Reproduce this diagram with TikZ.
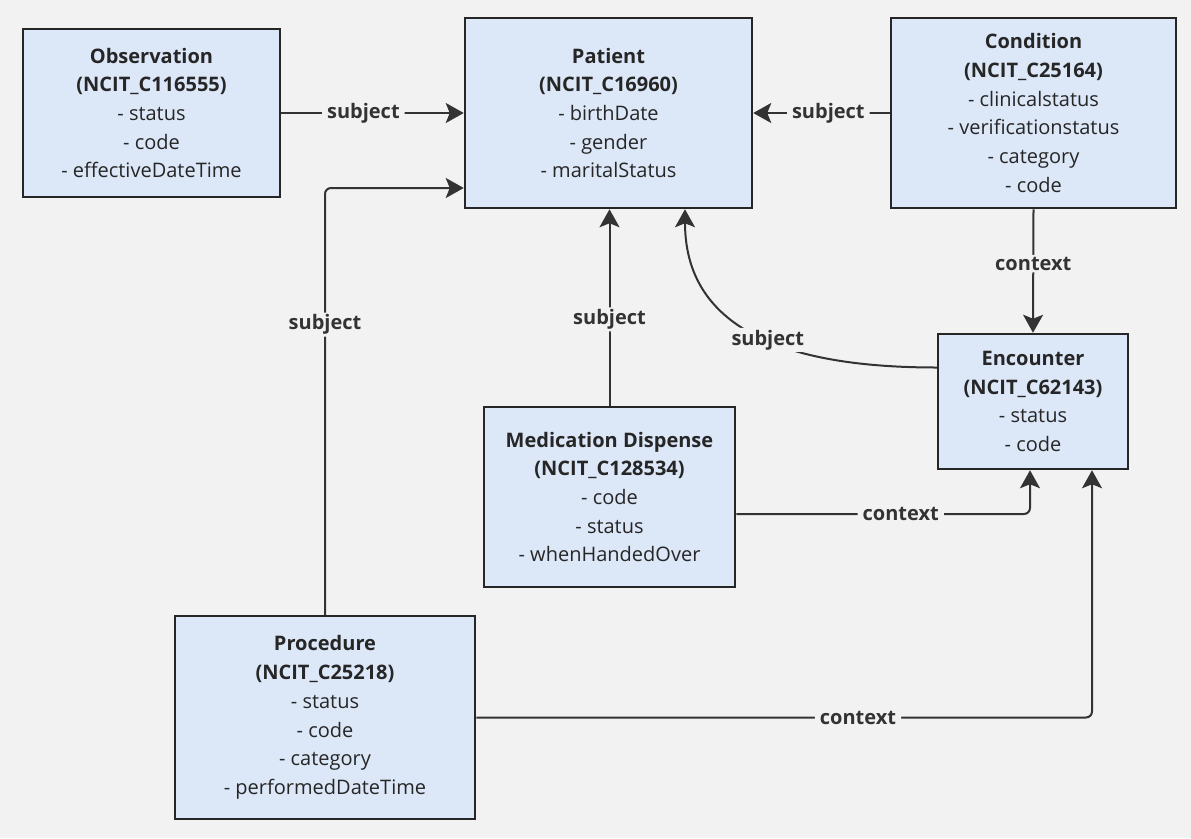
\documentclass[tikz,border=0pt]{standalone}
\usepackage{fontspec}
\setmainfont{Open Sans}
\usetikzlibrary{arrows.meta}
\definecolor{canvas}{HTML}{F2F2F2}
\definecolor{boxfill}{HTML}{DCE7F8}
\definecolor{edge}{HTML}{333333}

\begin{document}
\begin{tikzpicture}[x=1pt,y=-1pt]
        \tikzstyle{entity}=[draw=black!85,line width=2.5pt,fill=boxfill,align=center,text=black!85,font=\fontsize{20}{28.7}\selectfont,inner sep=0pt]
        \tikzstyle{link}=[draw=edge,line width=2pt,-{Stealth[length=18pt,width=20pt,inset=4pt]},rounded corners=6pt]
        \tikzstyle{tag}=[fill=canvas,text=edge,font=\fontsize{20}{22}\selectfont\bfseries,inner xsep=5pt,inner ysep=2pt]
        \fill[canvas] (0,0) rectangle (1191,838);
        % entities
        \node[entity,minimum width=257pt,minimum height=168pt] (obs) at (151.5,113) {\textbf{Observation}\\\textbf{(NCIT\_C116555)}\\- status\\- code\\- effectiveDateTime};
        \node[entity,minimum width=287pt,minimum height=190pt] (pat) at (608.5,113) {\textbf{Patient}\\\textbf{(NCIT\_C16960)}\\- birthDate\\- gender\\- maritalStatus};
        \node[entity,minimum width=285pt,minimum height=190pt] (cond) at (1033.5,113) {\textbf{Condition}\\\textbf{(NCIT\_C25164)}\\- clinicalstatus\\- verificationstatus\\- category\\- code};
        \node[entity,minimum width=190pt,minimum height=135pt] (enc) at (1033,401.5) {\textbf{Encounter}\\\textbf{(NCIT\_C62143)}\\- status\\- code};
        \node[entity,minimum width=251pt,minimum height=180pt] (med) at (609.5,497) {\textbf{Medication Dispense}\\\textbf{(NCIT\_C128534)}\\- code\\- status\\- whenHandedOver};
        \node[entity,minimum width=300pt,minimum height=203pt] (proc) at (325,717.5) {\textbf{Procedure}\\\textbf{(NCIT\_C25218)}\\- status\\- code\\- category\\- performedDateTime};
        % relations
        \draw[link] (obs.east) -- node[tag,pos=0.45] {subject} (pat.west);
        \draw[link] (cond.west) -- node[tag,pos=0.45] {subject} (pat.east);
        \draw[link] (proc.north) |- node[tag,pos=0.34] {subject} ([yshift=-75pt]pat.west);
        \draw[link] (med.north) -- node[tag,pos=0.44] {subject} (med.north |- pat.south);
        \draw[link] ([yshift=34pt]enc.west) .. controls +(-130pt,0pt) and +(0pt,-130pt) .. node[tag,pos=0.48] {subject} ([xshift=76.5pt]pat.south);
        \draw[link] (cond.south) -- node[tag,pos=0.44] {context} (enc.north);
        \draw[link] ([yshift=-17pt]med.east) -| node[tag,pos=0.28] {context} ([xshift=-3pt]enc.south);
        \draw[link] (proc.east) -| node[tag,pos=0.31] {context} ([xshift=59pt]enc.south);
    \end{tikzpicture}
\end{document}
